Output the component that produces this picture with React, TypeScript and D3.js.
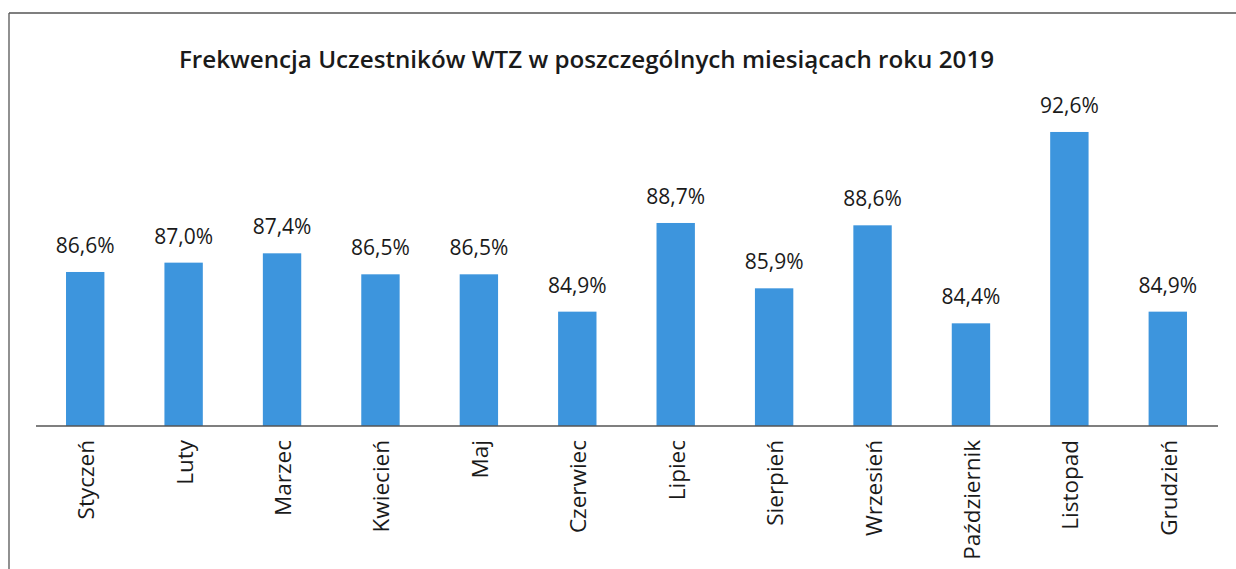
import React from "react";
import * as d3 from "d3";

const months = ["Styczeń", "Luty", "Marzec", "Kwiecień", "Maj", "Czerwiec", "Lipiec", "Sierpień", "Wrzesień", "Październik", "Listopad", "Grudzień"];
const attendance = [86.6, 87.0, 87.4, 86.5, 86.5, 84.9, 88.7, 85.9, 88.6, 84.4, 92.6, 84.9];
const title = "Frekwencja Uczestników WTZ w poszczególnych miesiącach roku 2019";

const W = 1236;
const H = 569;
const FONT = "'Open Sans', Lato, sans-serif";
const BAR = "#3d95dd";

export default function App() {
  const x = d3.scaleBand<string>().domain(months).range([36, 1217]).paddingInner(0.61).paddingOuter(0.305);
  const y = d3.scaleLinear().domain([80, 94]).range([426, 99.3]);
  const fmt = (v: number) => v.toFixed(1).replace(".", ",") + "%";

  return (
    <svg width={W} height={H} style={{ position: "absolute", left: 0, top: 0, background: "#fff" }}>
      <rect x={0} y={0} width={W} height={H} fill="#fff" />
      <line x1={9} y1={13} x2={W} y2={13} stroke="#555" strokeWidth={1.3} />
      <line x1={9} y1={13} x2={9} y2={H} stroke="#555" strokeWidth={1.3} />
      <text x={586.5} y={68} textAnchor="middle" fontFamily={FONT} fontWeight="600" fontSize={24.2} fill="#1a1a1a">
        {title}
      </text>
      {months.map((m, i) => (
        <g key={m}>
          <rect x={x(m)} y={y(attendance[i])} width={x.bandwidth()} height={y(80) - y(attendance[i])} fill={BAR} />
          <text x={(x(m) as number) + x.bandwidth() / 2} y={y(attendance[i]) - 19} textAnchor="middle" fontFamily={FONT} fontSize={21} fill="#1a1a1a">
            {fmt(attendance[i])}
          </text>
          <text
            transform={`translate(${(x(m) as number) + x.bandwidth() / 2 + 9},440) rotate(-90)`}
            textAnchor="end"
            fontFamily={FONT}
            fontSize={22.5}
            fill="#1a1a1a"
          >
            {m}
          </text>
        </g>
      ))}
      <line x1={36} y1={426} x2={1218} y2={426} stroke="#555" strokeWidth={1.5} />
    </svg>
  );
}
